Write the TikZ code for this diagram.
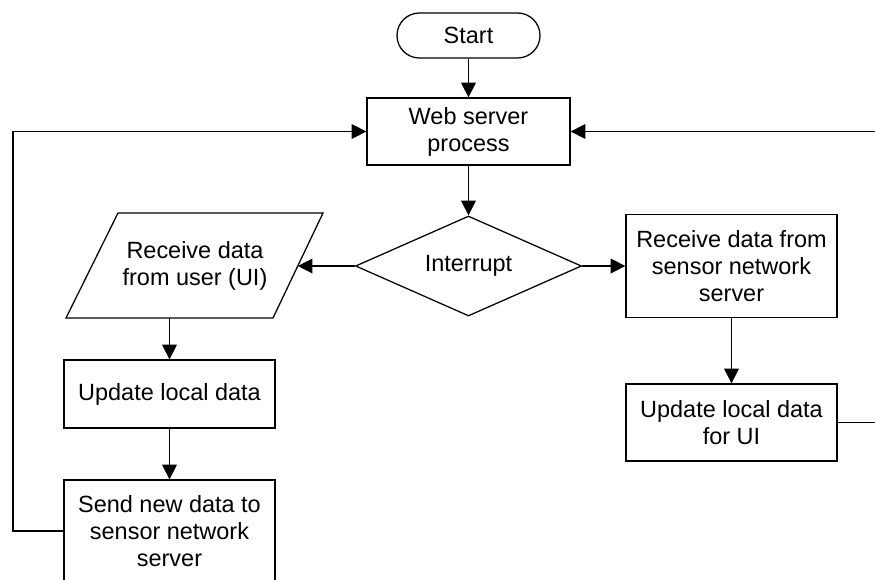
\documentclass[tikz,border=0pt]{standalone}
\usepackage{fontspec}
\setmainfont{Liberation Sans}
\usetikzlibrary{shapes.geometric,arrows.meta}

\begin{document}
\begin{tikzpicture}[x=0.75pt,y=-0.75pt,
  line width=0.95pt,
  every node/.style={font=\fontsize{17.6}{20.25}\selectfont, align=center, inner sep=0pt},
  box/.style={draw, rectangle, minimum width=158.25pt},
  flow/.style={-{Triangle[length=11pt,width=11pt]}},
]
\useasboundingbox (0,0) rectangle (875,579);

% terminal and main process
\node[draw, rectangle, rounded corners=16.8pt, minimum width=107.25pt, minimum height=33.75pt]
  (start) at (468.5,35.5) {Start};
\node[draw, rectangle, minimum width=152.25pt, minimum height=50.25pt]
  (web) at (468.5,131.5) {Web server\\process};

% decision
\node[draw, diamond, aspect=2.26, minimum width=169.5pt, minimum height=75pt]
  (int) at (468.5,266) {Interrupt};

% input parallelogram (left branch)
\coordinate (pTL) at (118,213);
\coordinate (pTR) at (323,213);
\coordinate (pBR) at (273,318);
\coordinate (pBL) at (66,318);
\draw (pTL) -- (pTR) -- (pBR) -- (pBL) -- cycle;
\node (para) at (195,265.5) {Receive data\\from user (UI)};
\coordinate (paraR) at (297.8,266);
\coordinate (paraB) at (169.5,318);

% left branch steps
\node[box, minimum height=51pt] (upd) at (169.5,394) {Update local data};
\node[box, minimum height=76.5pt] (send) at (169.5,531) {Send new data to\\sensor network\\server};

% right branch steps
\node[box, minimum height=77.25pt] (recv) at (731.5,266) {Receive data from\\sensor network\\server};
\node[box, minimum height=57.75pt] (updui) at (731.5,422.5) {Update local data\\for UI};

% connectors
\draw[flow] (start) -- (web);
\draw[flow] (web) -- (int);
\draw[flow] (int.west) -- (paraR);
\draw[flow] (int.east) -- (recv.west);
\draw[flow] (paraB) -- (upd);
\draw[flow] (upd) -- (send);
\draw[flow] (recv) -- (updui);

% loops back to the web server process
\coordinate (ll) at (13,131.5);
\coordinate (rr) at (882,131.5);
\draw[flow] (send.west) -| (ll) -- (web.west);
\draw[flow] (updui.east) -| (rr) -- (web.east);
\end{tikzpicture}
\end{document}
